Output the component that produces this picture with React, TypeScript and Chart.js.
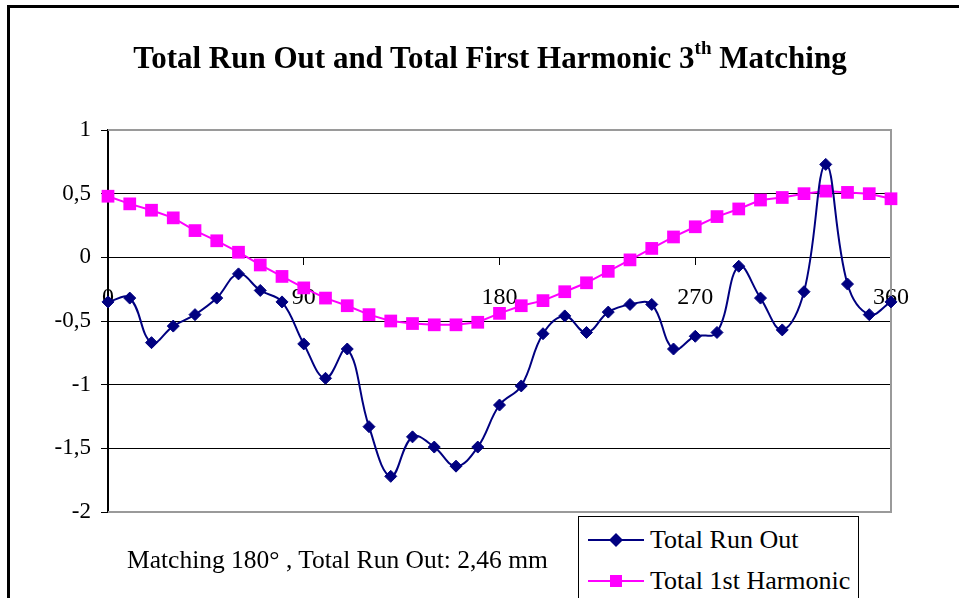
import React, { useEffect, useRef } from "react";
import { Chart, registerables } from "chart.js";

Chart.register(...registerables);

const angles = [0, 10, 20, 30, 40, 50, 60, 70, 80, 90, 100, 110, 120, 130, 140, 150, 160, 170, 180, 190, 200, 210, 220, 230, 240, 250, 260, 270, 280, 290, 300, 310, 320, 330, 340, 350, 360];
const totalRunOut = [-0.35, -0.32, -0.67, -0.54, -0.45, -0.32, -0.13, -0.26, -0.35, -0.68, -0.95, -0.72, -1.33, -1.72, -1.41, -1.49, -1.64, -1.49, -1.16, -1.01, -0.6, -0.46, -0.59, -0.43, -0.37, -0.37, -0.72, -0.62, -0.59, -0.07, -0.32, -0.57, -0.27, 0.73, -0.21, -0.45, -0.35];
const totalFirstHarmonic = [0.48, 0.42, 0.37, 0.31, 0.21, 0.13, 0.04, -0.06, -0.15, -0.24, -0.32, -0.38, -0.45, -0.5, -0.52, -0.53, -0.53, -0.51, -0.44, -0.38, -0.34, -0.27, -0.2, -0.11, -0.02, 0.07, 0.16, 0.24, 0.32, 0.38, 0.45, 0.47, 0.5, 0.52, 0.51, 0.5, 0.46];
const xTickLabels = ["0", "90", "180", "270", "360"];
const seriesNames = ["Total Run Out", "Total 1st Harmonic"];
const titleMain = "Total Run Out and Total First Harmonic 3";
const titleSup = "th";
const titleEnd = " Matching";
const noteText = "Matching 180° , Total Run Out: 2,46 mm";

const NAVY = "#000080";
const MAGENTA = "#FF00FF";
const FONT = "'Liberation Serif', 'Times New Roman', serif";

const framePlugin = {
  id: "frame",
  beforeDatasetsDraw(chart: any) {
    const { ctx, chartArea } = chart;
    const { left, right, top, bottom } = chartArea;
    ctx.save();
    ctx.strokeStyle = "#9a9a9a";
    ctx.lineWidth = 2;
    ctx.beginPath();
    ctx.moveTo(left, top);
    ctx.lineTo(right, top);
    ctx.lineTo(right, bottom);
    ctx.lineTo(left, bottom);
    ctx.stroke();
    ctx.restore();
  },
};

export default function App() {
  const ref = useRef<HTMLCanvasElement | null>(null);

  useEffect(() => {
    if (!ref.current) return;
    const chart = new Chart(ref.current, {
      type: "line",
      data: {
        datasets: [
          {
            label: seriesNames[0],
            data: angles.map((a, i) => ({ x: a, y: totalRunOut[i] })),
            borderColor: NAVY,
            backgroundColor: NAVY,
            borderWidth: 2,
            pointStyle: "rectRot",
            pointRadius: 6,
            pointBorderWidth: 1,
            pointBorderColor: NAVY,
            pointBackgroundColor: NAVY,
            tension: 0.4,
            clip: false as any,
          },
          {
            label: seriesNames[1],
            data: angles.map((a, i) => ({ x: a, y: totalFirstHarmonic[i] })),
            borderColor: MAGENTA,
            backgroundColor: MAGENTA,
            borderWidth: 2,
            pointStyle: "rect",
            pointRadius: 9,
            pointBorderWidth: 0,
            pointBackgroundColor: MAGENTA,
            tension: 0,
            clip: false as any,
          },
        ],
      },
      options: {
        responsive: false,
        animation: false,
        layout: { padding: { left: 0, top: 130, right: 68, bottom: 86 } },
        plugins: {
          legend: { display: false },
          title: { display: false },
          tooltip: { enabled: false },
        },
        scales: {
          x: {
            type: "linear",
            position: { y: 0 } as any,
            min: 0,
            max: 360,
            afterBuildTicks: (scale: any) => {
              scale.ticks = xTickLabels.map((t) => ({ value: Number(t) }));
            },
            ticks: {
              color: "#000",
              font: { family: FONT, size: 24 },
              padding: 19,
              maxRotation: 0,
              autoSkip: false,
              callback: (v: any) => String(v),
            },
            grid: {
              drawOnChartArea: false,
              drawTicks: true,
              tickLength: 7,
              tickColor: "#000",
              color: "#000",
            },
            border: { display: true, color: "#000", width: 1 },
          },
          y: {
            type: "linear",
            min: -2,
            max: 1,
            afterFit: (scale: any) => {
              scale.width = 108;
            },
            ticks: {
              stepSize: 0.5,
              color: "#000",
              font: { family: FONT, size: 23 },
              padding: 10,
              callback: (v: any) => String(v).replace(".", ","),
            },
            grid: {
              drawTicks: true,
              tickLength: 7,
              tickColor: "#000",
              lineWidth: 1,
              color: (c: any) =>
                c.tick && (c.tick.value === 1 || c.tick.value === -2) ? "rgba(0,0,0,0)" : "#000",
            },
            border: { display: true, color: "#000", width: 2 },
          },
        },
      },
      plugins: [framePlugin],
    });
    return () => chart.destroy();
  }, []);

  const legendRow = (color: string, kind: "diamond" | "square", text: string, top: number) => (
    <div style={{ position: "absolute", left: 588, top, height: 30, display: "flex", alignItems: "center" }}>
      <svg width={56} height={20} style={{ display: "block" }}>
        <line x1={0} y1={10} x2={56} y2={10} stroke={color} strokeWidth={2} />
        {kind === "diamond" ? (
          <polygon points="28,3 35,10 28,17 21,10" fill={color} />
        ) : (
          <rect x={22} y={4} width={12} height={12} fill={color} />
        )}
      </svg>
      <span style={{ marginLeft: 6, fontFamily: FONT, fontSize: 26, color: "#000", whiteSpace: "nowrap", lineHeight: "30px" }}>{text}</span>
    </div>
  );

  return (
    <div style={{ position: "fixed", left: 0, top: 0, width: 959, height: 598, background: "#fff", overflow: "hidden" }}>
      <div
        style={{
          position: "absolute",
          left: 7,
          top: 5,
          width: 1000,
          height: 700,
          borderLeft: "3px solid #000",
          borderTop: "3px solid #000",
        }}
      />
      <canvas ref={ref} width={959} height={598} style={{ position: "absolute", left: 0, top: 0, width: 959, height: 598 }} />
      <div
        style={{
          position: "absolute",
          left: 490,
          top: 40,
          transform: "translateX(-50%)",
          fontFamily: FONT,
          fontWeight: "bold",
          fontSize: 31,
          whiteSpace: "nowrap",
          color: "#000",
          lineHeight: "36px",
        }}
      >
        {titleMain}
        <sup style={{ fontSize: 19, verticalAlign: "top", position: "relative", top: -10 }}>{titleSup}</sup>
        {titleEnd}
      </div>
      <div
        style={{
          position: "absolute",
          left: 127,
          top: 545,
          fontFamily: FONT,
          fontSize: 25.5,
          whiteSpace: "nowrap",
          color: "#000",
          lineHeight: "30px",
        }}
      >
        {noteText}
      </div>
      <div
        style={{
          position: "absolute",
          left: 578,
          top: 516,
          width: 279,
          height: 120,
          border: "1px solid #000",
          background: "#fff",
        }}
      />
      {legendRow(NAVY, "diamond", seriesNames[0], 525)}
      {legendRow(MAGENTA, "square", seriesNames[1], 566)}
    </div>
  );
}
